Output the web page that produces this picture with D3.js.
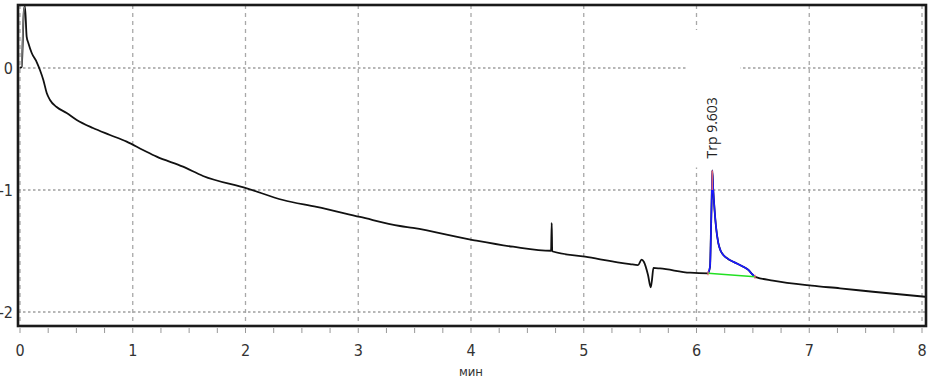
<!DOCTYPE html>
<html><head><meta charset="utf-8">
<script src="https://cdn.jsdelivr.net/npm/d3@7"></script>
<style>
html,body{margin:0;padding:0;background:#fff;}
svg{display:block;}
.ax{font-family:"Liberation Sans Narrow","DejaVu Sans Condensed","Liberation Sans",sans-serif;}
</style></head>
<body><svg id="c" width="933" height="380"></svg>
<script>
// ---- data ----
const xTicks = [0,1,2,3,4,5,6,7,8];
const yTicks = [0,-1,-2];
const xLabel = "мин";
// signal (time in min, value)
const sigT = [0,0.015,0.035,0.044,0.059,0.074,0.104,0.148,0.177,0.207,0.237,0.266,0.325,0.414,0.503,0.647,0.798,0.946,1.091,1.212,1.446,1.623,2.011,2.333,2.631,3.016,3.370,3.486,4.018,4.373,4.710,4.716,4.720,4.726,5.012,5.410,5.481,5.514,5.534,5.570,5.594,5.605,5.618,5.676,5.942,6.102,6.120,6.128,6.135,6.140,6.148,6.160,6.173,6.193,6.215,6.238,6.280,6.326,6.415,6.460,6.489,6.519,6.534,6.678,7.022,7.273,7.565,8.027];
const sigV = [0,0.011,0.475,0.504,0.257,0.205,0.123,0.049,-0.016,-0.098,-0.205,-0.262,-0.320,-0.369,-0.426,-0.492,-0.549,-0.604,-0.672,-0.727,-0.809,-0.885,-0.986,-1.082,-1.139,-1.221,-1.295,-1.311,-1.410,-1.465,-1.498,-1.270,-1.500,-1.504,-1.547,-1.607,-1.615,-1.570,-1.590,-1.697,-1.798,-1.738,-1.639,-1.643,-1.678,-1.683,-1.629,-1.352,-1.055,-0.840,-0.990,-1.160,-1.301,-1.434,-1.500,-1.533,-1.565,-1.588,-1.629,-1.655,-1.685,-1.711,-1.716,-1.743,-1.784,-1.806,-1.834,-1.875];
// peak integration
const peakName = "Trp 9.603";
const peakStart = 6.102, peakEnd = 6.519, peakApexT = 6.140;
const baseT = [6.102, 6.519];
const baseV = [-1.683, -1.711];
const apexMarkV = [-0.840, -1.000];

// ---- chart ----
const svg = d3.select("#c");
const x = d3.scaleLinear().domain([0,8]).range([20,922]);
const y = d3.scaleLinear().domain([0,-2]).range([68,312]);
const L=18, T=5, R=926, B=326;

svg.append("defs").append("clipPath").attr("id","clip")
  .append("rect").attr("x",L).attr("y",T).attr("width",R-L).attr("height",B-T);

const g = svg.append("g");
// gridlines
g.selectAll(".vg").data(xTicks).join("line")
  .attr("x1",d=>x(d)).attr("x2",d=>x(d)).attr("y1",T).attr("y2",B)
  .attr("stroke","#a8a8a8").attr("stroke-width",1.3).attr("stroke-dasharray","4,4");
g.selectAll(".hg").data(yTicks).join("line")
  .attr("x1",L).attr("x2",R).attr("y1",d=>y(d)).attr("y2",d=>y(d))
  .attr("stroke","#a0a0a0").attr("stroke-width",1.3).attr("stroke-dasharray","2.5,2.5");

// white label box
const ax = x(peakApexT), ay = y(apexMarkV[0]);
g.append("rect").attr("x",ax-25).attr("y",30).attr("width",53).attr("height",ay-33).attr("fill","#fff");

const data = sigT.map((t,i)=>({t,v:sigV[i]}));
const line = d3.line().x(d=>x(d.t)).y(d=>y(d.v)).curve(d3.curveMonotoneX);
const plot = svg.append("g").attr("clip-path","url(#clip)");
plot.append("path").datum(data).attr("d",line).attr("fill","none")
  .attr("stroke","#111").attr("stroke-width",1.8).attr("stroke-linejoin","round");
// initial spike rising edge grey
plot.append("path").datum(data.slice(1,4)).attr("d",line).attr("fill","none")
  .attr("stroke","#777").attr("stroke-width",1.5);
// peak
plot.append("path").datum(data.filter(d=>d.t>=peakStart && d.t<=peakEnd)).attr("d",line)
  .attr("fill","none").attr("stroke","#1a1aff").attr("stroke-width",1.6).attr("stroke-linejoin","round");
plot.append("path").datum(baseT.map((t,i)=>({t,v:baseV[i]}))).attr("d",line)
  .attr("fill","none").attr("stroke","#22e022").attr("stroke-width",1.6);
plot.append("line").attr("x1",ax).attr("x2",ax).attr("y1",y(apexMarkV[0])).attr("y2",y(apexMarkV[1]))
  .attr("stroke","#f06a6a").attr("stroke-width",1.6).attr("opacity",0.9);
[0,1].forEach(i=>plot.append("line").attr("x1",x(baseT[i])).attr("x2",x(baseT[i]))
  .attr("y1",y(baseV[i])-2).attr("y2",y(baseV[i])+2).attr("stroke","#f06a6a").attr("stroke-width",1.2));

// label
svg.append("text").attr("transform",`translate(${ax+5},${ay-12}) rotate(-90)`)
  .attr("font-family","'Open Sans',sans-serif").attr("font-size",14).attr("fill","#222")
  .text(peakName);

// frame
svg.append("rect").attr("x",L).attr("y",T).attr("width",R-L).attr("height",B-T)
  .attr("fill","none").attr("stroke","#1a1a1a").attr("stroke-width",2.6);

// x ticks
const minor = d3.range(0,8.001,0.25);
svg.selectAll(".mt").data(minor).join("line")
  .attr("x1",d=>x(d)).attr("x2",d=>x(d)).attr("y1",B+2).attr("y2",B+7)
  .attr("stroke","#999").attr("stroke-width",1);
svg.selectAll(".xl").data(xTicks).join("text").attr("class","ax")
  .attr("x",d=>x(d)).attr("y",356).attr("text-anchor","middle")
  .attr("font-size",16).attr("fill","#333").text(d=>d);
svg.selectAll(".yl").data(yTicks).join("text").attr("class","ax")
  .attr("x",13).attr("y",d=>y(d)+6).attr("text-anchor","end")
  .attr("font-size",16).attr("fill","#333").text(d=>d);
svg.append("text").attr("class","ax").attr("x",x(4)).attr("y",376).attr("text-anchor","middle")
  .attr("font-size",13).attr("fill","#333").text(xLabel);
</script></body></html>
